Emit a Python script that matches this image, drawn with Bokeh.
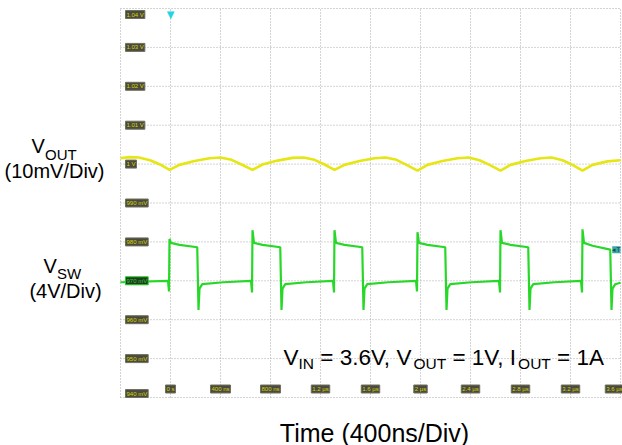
from bokeh.plotting import figure
from bokeh.models import Range1d, Label
from bokeh.embed import file_html
from bokeh.resources import INLINE

# ---- data (time in µs, VOUT in V, VSW in V) ----
x_ticks = [-0.4, 0.0, 0.4, 0.8, 1.2, 1.6, 2.0, 2.4, 2.8, 3.2, 3.6]
time_label_vals = [0.0, 0.4, 0.8, 1.2, 1.6, 2.0, 2.4, 2.8, 3.2, 3.6]
time_labels = ["0 s", "400 ns", "800 ns", "1.2 µs", "1.6 µs", "2 µs", "2.4 µs", "2.8 µs", "3.2 µs", "3.6 µs"]
y_ticks = [1.04, 1.03, 1.02, 1.01, 1.00, 0.99, 0.98, 0.97, 0.96, 0.95, 0.94]
y_labels = ["1.04 V", "1.03 V", "1.02 V", "1.01 V", "1 V", "990 mV", "980 mV", "970 mV", "960 mV", "950 mV", "940 mV"]

vout_t = [-0.400, -0.330, -0.252, -0.164, -0.084, -0.008,
          0.072, 0.192, 0.312, 0.400, 0.488, 0.568, 0.656,
          0.736, 0.856, 0.976, 1.064, 1.152, 1.232, 1.312,
          1.392, 1.512, 1.632, 1.720, 1.808, 1.888, 1.976,
          2.056, 2.176, 2.296, 2.384, 2.472, 2.552, 2.640,
          2.720, 2.840, 2.960, 3.048, 3.136, 3.216, 3.296,
          3.376, 3.496, 3.600]
vout_v = [1.0015, 1.0018, 1.0017, 1.0010, 0.9999, 0.9985,
          0.9998, 1.0008, 1.0015, 1.0017, 1.0011, 0.9999, 0.9985,
          0.9999, 1.0009, 1.0016, 1.0017, 1.0011, 0.9999, 0.9985,
          0.9998, 1.0008, 1.0015, 1.0017, 1.0011, 0.9998, 0.9983,
          0.9998, 1.0008, 1.0015, 1.0017, 1.0010, 0.9998, 0.9983,
          0.9998, 1.0008, 1.0015, 1.0017, 1.0010, 0.9998, 0.9983,
          0.9998, 1.0007, 1.0010]

vsw_t = [-0.400,
         -0.020, -0.012, -0.008, 0.004, 0.072, 0.214, 0.224, 0.232, 0.254, 0.424,
         0.644, 0.652, 0.656, 0.668, 0.736, 0.878, 0.888, 0.896, 0.918, 1.088,
         1.300, 1.308, 1.312, 1.324, 1.392, 1.534, 1.544, 1.552, 1.574, 1.744,
         1.964, 1.972, 1.976, 1.988, 2.056, 2.198, 2.208, 2.216, 2.238, 2.408,
         2.628, 2.636, 2.640, 2.652, 2.720, 2.862, 2.872, 2.880, 2.902, 3.072,
         3.284, 3.292, 3.296, 3.308, 3.376, 3.518, 3.528, 3.536, 3.558, 3.600]
vsw_v = [-0.15,
         0.0, -1.1, 4.3, 3.9, 3.7, 3.45, -3.0, -0.8, -0.35, -0.15,
         0.0, -1.2, 5.2, 3.9, 3.7, 3.45, -3.0, -0.8, -0.35, -0.15,
         0.0, -1.2, 5.2, 3.9, 3.7, 3.45, -3.0, -0.8, -0.35, -0.15,
         0.0, -1.1, 5.0, 3.9, 3.7, 3.45, -3.0, -0.8, -0.35, -0.15,
         0.0, -1.2, 5.2, 3.9, 3.7, 3.45, -3.0, -0.8, -0.35, -0.15,
         0.0, -1.2, 5.3, 3.9, 3.6, 3.2, -3.0, -0.8, -0.35, -0.2]

trigger_time = 0.0
trigger_level = 3.2

FONT = "Liberation Sans"
W_PX, H_PX = 622, 445
# scope screen geometry (pixels): x -0.4..3.6 µs spans 120..620, y 1.04..0.94 V spans 8..397
SX0, SX1, SY0, SY1 = 120, 620, 8, 397
X0, X1 = -0.4, 3.6
Y0, Y1 = 0.94, 1.04
V0, V1 = -12.0, 28.0          # VSW: 4 V/div, ground on the 970 mV line
kx = (X1 - X0) / (SX1 - SX0)
ky = (Y1 - Y0) / (SY1 - SY0)
kv = (V1 - V0) / (SY1 - SY0)

p = figure(width=W_PX, height=H_PX,
           x_range=Range1d(X0 - SX0 * kx, X1 + (W_PX - SX1) * kx),
           y_range=Range1d(Y0 - (H_PX - SY1) * ky, Y1 + SY0 * ky),
           output_backend="svg", toolbar_location=None,
           x_axis_location=None, y_axis_location=None,
           min_border=0)
p.extra_y_ranges = {"vsw": Range1d(V0 - (H_PX - SY1) * kv, V1 + SY0 * kv)}
p.outline_line_color = None
p.background_fill_color = "white"
p.border_fill_color = "white"
for g in p.grid:
    g.visible = False

# dotted graticule
p.segment(x0=x_ticks, y0=[Y0] * len(x_ticks), x1=x_ticks, y1=[Y1] * len(x_ticks),
          line_color="#a8a8a8", line_dash="1 2", line_width=1)
p.segment(x0=[X0] * len(y_ticks), y0=y_ticks, x1=[X1] * len(y_ticks), y1=y_ticks,
          line_color="#a8a8a8", line_dash="1 2", line_width=1)

# scope scale labels
for i, (yv, lab) in enumerate(zip(y_ticks, y_labels)):
    off = -6 if i == 0 else (4 if i == len(y_ticks) - 1 else 0)
    green = (lab == "970 mV")
    p.add_layout(Label(x=X0, y=yv, x_offset=5, y_offset=off, text=lab, text_font=FONT,
                       text_font_size="6px", text_align="left", text_baseline="middle",
                       text_color="#2ad02a" if green else "#d6d600",
                       background_fill_color="#1e3c1e" if green else "#4a4a3e",
                       border_line_color="#22cc22" if green else "#707060",
                       padding=1))
for i, (tv, lab) in enumerate(zip(time_label_vals, time_labels)):
    xo = -6 if i == len(time_labels) - 1 else 0
    p.add_layout(Label(x=tv, y=Y0, x_offset=xo, y_offset=8.5, text=lab, text_font=FONT,
                       text_font_size="6px", text_align="center", text_baseline="middle",
                       text_color="#d6d600", background_fill_color="#4a4a3e",
                       border_line_color="#707060", padding=1))

# traces
p.line(vsw_t, vsw_v, y_range_name="vsw", line_color="#28d828", line_width=2.2)
p.line(vout_t, vout_v, line_color="#e6e614", line_width=2.6)

# markers
p.add_layout(Label(x=trigger_time, y=Y1, text="▼", text_font="DejaVu Sans", text_font_size="10px",
                   text_align="center", text_baseline="top", text_color="#22d4e4"))
p.add_layout(Label(x=X1, y=trigger_level, y_range_name="vsw", text="◂T",
                   text_font=FONT, text_font_size="7px", text_align="right", text_baseline="middle",
                   text_color="#1c4848", background_fill_color="#3aa8a8"))

# outside texts, placed in pixels relative to the scope's top-left corner
def txt(s, rx, ry, size, align="left"):
    p.add_layout(Label(x=X0, y=Y1, x_offset=rx - SX0, y_offset=-(ry - SY0), text=s,
                       text_font=FONT, text_font_size=f"{size}px", text_align=align,
                       text_baseline="alphabetic", text_color="black"))

txt("V", 31, 145, 20)
txt("OUT", 44.5, 154, 15)
txt("(10mV/Div)", 54, 170, 20, "center")
txt("V", 43, 265, 20)
txt("SW", 56.5, 273, 15)
txt("(4V/Div)", 65, 290, 20, "center")
txt("Time (400ns/Div)", 374, 432, 25, "center")

W = {"V": 667, "I": 278, "N": 722, "O": 778, "U": 722, "T": 611, " ": 278, "=": 584,
     "3": 556, ".": 278, "6": 556, ",": 278, "1": 556, "A": 667}
parts = [("V", 22.5, 0), ("IN", 15.5, 6), (" = 3.6V, V", 22.5, 0), ("OUT", 15.5, 6),
         (" = 1V, I", 22.5, 0), ("OUT", 15.5, 6), (" = 1A", 22.5, 0)]
cx = 283
for s, size, drop in parts:
    lead = len(s) - len(s.lstrip(" "))
    txt(s.strip(" "), cx + lead * W[" "] / 1000 * size, 357 + drop, size)
    cx += sum(W[c] for c in s) / 1000 * size

open("out.html", "w").write(file_html(p, INLINE))
